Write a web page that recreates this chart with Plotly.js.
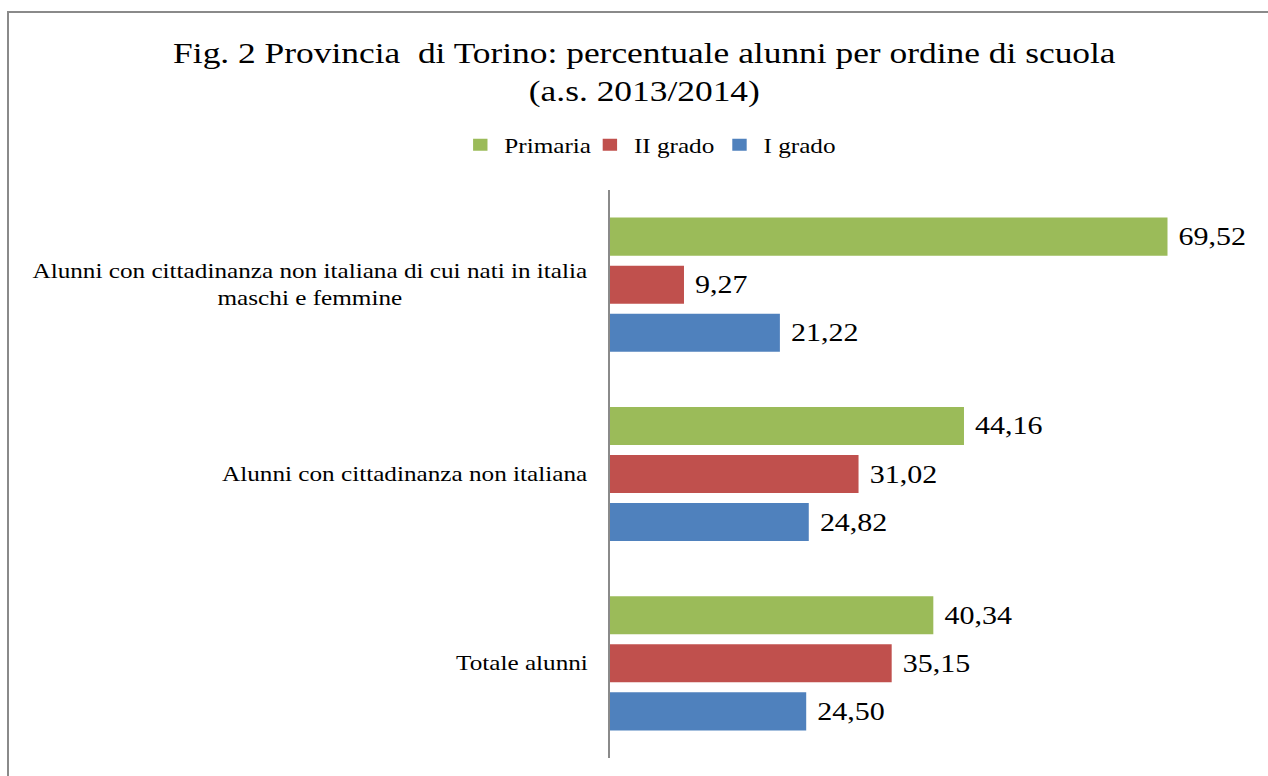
<!DOCTYPE html>
<html>
<head>
<meta charset="utf-8">
<script src="https://cdn.plot.ly/plotly-3.0.1.min.js"></script>
<style>
  html, body { margin: 0; padding: 0; background: #ffffff; overflow: hidden; }
  #frame { position: absolute; left: 7px; top: 11px; width: 1400px; height: 900px;
           border-top: 2px solid #8a8a8a; border-left: 2px solid #8a8a8a;
           z-index: 5; pointer-events: none; }
  #wrap { position: absolute; left: 0; top: 0; width: 1057px; height: 776px;
          transform: scaleX(1.2); transform-origin: 0 0; z-index: 1; }
  #chart { width: 1057px; height: 776px; }
</style>
</head>
<body>
<div id="wrap"><div id="chart"></div></div>
<div id="frame"></div>
<script>
// Categories (top to bottom)
const categories = [
  "Alunni con cittadinanza non italiana di cui nati in italia<br>maschi e femmine",
  "Alunni con cittadinanza non italiana",
  "Totale alunni"
];
const seriesNames = ["Primaria", "II grado", "I grado"];
const primaria = [69.52, 44.16, 40.34];
const secondoGrado = [9.27, 31.02, 35.15];
const primoGrado = [21.22, 24.82, 24.50];
const colors = ["#9BBB59", "#C0504D", "#4F81BD"];

const serif = '"Liberation Serif", "Times New Roman", serif';
const valuesList = [primaria, secondoGrado, primoGrado];

const traces = valuesList.map((vals, i) => ({
  type: 'bar',
  orientation: 'h',
  name: seriesNames[i],
  y: categories,
  x: vals,
  marker: { color: colors[i] },
  texttemplate: '\u00a0%{x:.2f}',
  textposition: 'outside',
  constraintext: 'none',
  cliponaxis: false,
  textfont: { family: serif, size: 25, color: '#000' },
  hoverinfo: 'skip'
}));

// Category labels, centred multi-line like the original
const catAnnotations = categories.map(c => ({
  x: 0, xref: 'x', y: c, yref: 'y',
  text: c, showarrow: false,
  xanchor: 'right', yanchor: 'middle', xshift: -16,
  align: 'center',
  font: { family: serif, size: 21, color: '#000' }
}));

const layout = {
  width: 1057,
  height: 776,
  separators: ',.',
  paper_bgcolor: 'rgba(0,0,0,0)',
  plot_bgcolor: 'rgba(0,0,0,0)',
  margin: { l: 507.5, r: 14, t: 190, b: 18 },
  barmode: 'group',
  bargap: 0.239,
  bargroupgap: 0.208,
  font: { family: serif, color: '#000' },
  title: {
    text: 'Fig. 2 Provincia  di Torino: percentuale alunni per ordine di scuola<br>(a.s. 2013/2014)',
    font: { family: serif, size: 29.5, color: '#000' },
    x: 0.508, xref: 'container', xanchor: 'center',
    y: 1 - 63 / 776, yref: 'container', yanchor: 'top'
  },
  showlegend: true,
  legend: {
    orientation: 'h',
    x: 0.513, xref: 'container', xanchor: 'center',
    y: 1 - 145 / 776, yref: 'container', yanchor: 'middle',
    font: { family: serif, size: 21, color: '#000' },
    itemwidth: 30,
    entrywidth: 63, entrywidthmode: 'pixels',
    traceorder: 'normal'
  },
  annotations: catAnnotations,
  xaxis: {
    range: [0, 80],
    showgrid: false, zeroline: false, showline: false,
    showticklabels: false, ticks: '', fixedrange: true
  },
  yaxis: {
    type: 'category',
    autorange: 'reversed',
    showgrid: false, zeroline: false,
    showline: true, linecolor: '#8a8a8a', linewidth: 1,
    ticks: '',
    showticklabels: false,
    fixedrange: true
  }
};

Plotly.newPlot('chart', traces, layout, { displayModeBar: false, staticPlot: true });
</script>
</body>
</html>
